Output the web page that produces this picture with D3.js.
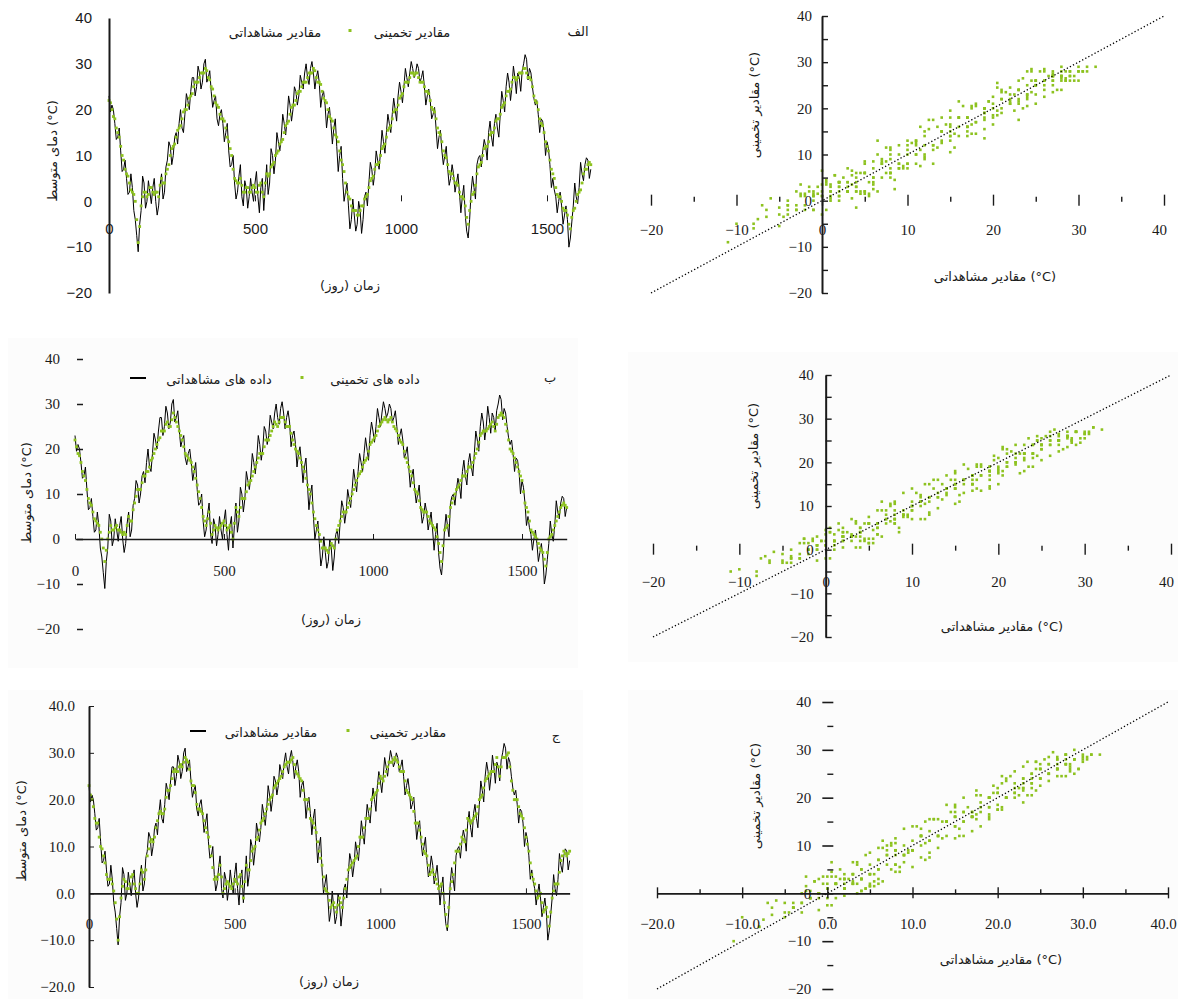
<!DOCTYPE html>
<html><head><meta charset="utf-8">
<script src="https://cdn.jsdelivr.net/npm/d3@7"></script>
<style>body{margin:0;background:#fff}svg{display:block}</style>
</head><body>
<svg id="c" width="1180" height="999"></svg>
<script>
// ---- data ----
// samples at days 0,10,20,...,1650
const observed = [23,21,17,14,11,7,5,2,3,-4,
-11,-2,4,0,2,3,0,-1,6,2,
9,12,10,15,17,16,19,22,24,27,
25,28,26,31,27,24,22,18,19,17,
15,11,8,4,2,8,-1,3,1,
2,4,1,3,-2,8,4,10,9,13,
14,17,18,21,20,24,23,26,28,27,
29,28,27,26,23,21,19,17,16,12,
10,5,2,-1,-4,-3,-5,-2,-4,
2,4,7,6,9,11,13,15,17,19,
20,23,24,25,27,28,29,28,29,27,
25,23,22,19,16,14,11,10,7,5,
6,4,2,1,-3,-8,2,3,8,
10,11,12,15,14,17,16,19,22,25,
26,25,27,28,24,30,31,29,25,21,
19,18,15,13,8,5,1,0,-1,-3,
-4,-8,-1,1,3,6,8,9,7];
// samples at days 5,15,25,...,1645
const observedMid = [19.5,20,13.5,16,6.5,9,1.5,6,-2,-7.5,
-5,5.5,-1.5,4.5,-0.5,5,-3,3.5,0.5,7.5,
13,8,14,12.5,20,15,23.5,20,27,23,
29.5,24.5,30,26,28.5,20.5,23,16.5,20,13,
17,7.5,10,0.5,5.5,1,4.5,-1.5,5,0,
6.5,-2.5,5,3,1.5,11.5,6,15,11,19,
14.5,23,17.5,25,21,27.5,24.5,30,25.5,30.5,
24.5,28.5,20.5,24,16,20.5,12.5,18,6.5,12,
0,4,-6,0.5,-6.5,0,-7,1,-1,8.5,
3.5,11,7,15.5,10.5,19,15,22.5,17.5,26,
21.5,29,25,30.5,27,30,26,28.5,21,24.5,
18,20.5,11.5,15.5,8,12,3.5,8,2,6,
-2.5,3.5,-6.5,-4,5.5,0.5,9.5,7.5,13.5,9,
17.5,12,19,14,24,19.5,28,22,29.5,23.5,
27,28.5,32,26.5,28,22.5,22,15,17.5,10,
11.5,3,2.5,-2.5,2,-5,-1,-10,-4.5,4,
-0.5,8.5,4.5,9.5,5];

const predictedA = [22,20,18,15,12,9,6,4,2,0,
-9,-1,2,1,3,2,2,1,5,4,
7,10,12,14,16,18,20,21,23,25,
26,27,28,29,27,25,23,21,19,18,
16,13,10,5,4,5,2,3,2,
3,3,2,4,1,6,6,8,10,11,
13,15,17,19,21,22,24,25,26,27,
28,29,27,26,24,22,20,18,16,14,
11,8,4,1,-1,-2,-3,-2,-1,
1,3,5,7,8,10,12,14,16,18,
20,21,23,25,26,27,28,28,27,26,
25,24,22,20,18,15,13,10,8,6,
5,4,2,1,-1,-5,0,2,6,
8,10,12,13,15,16,18,19,21,23,
24,26,27,27,28,29,28,27,25,22,
20,17,15,12,9,6,3,1,0,-2,
-3,-6,-2,0,2,4,7,8,8];
const predictedAMid = [21.5,18.5,16,14,10,7,5.5,2.5,1.5,-4,
-5.5,1,2,1.5,3,1.5,2,3.5,4,6,
8,11.5,12.5,15.5,16.5,19.5,20,22.5,23.5,26,
26,28,28,28.5,26.5,24.5,21.5,20.5,18,17.5,
14,11.5,7,4.5,4,3.5,2,3,2,3.5,
2,3.5,2,4,5.5,7.5,8.5,10.5,12.5,13.5,
16.5,17.5,20.5,21,23.5,24,26,26,28,28,
28.5,26,25.5,22.5,21.5,18.5,17.5,14.5,13,9,
6.5,2,0.5,-2,-2,-3,-1,0.5,1.5,4.5,
5.5,8,8.5,11.5,12.5,15.5,16.5,19.5,20,22.5,
23.5,26,26,28,27.5,28,26,26,24,23.5,
20.5,19.5,16,14.5,11,9.5,6.5,6,4,3.5,
1,0.5,-3.5,-2,1.5,3.5,7.5,8.5,11.5,12,
14.5,15,17.5,18,20.5,21.5,24,24.5,27,26.5,
28,28,29,27,26.5,23,21.5,18,16.5,13,
11,7,5,1.5,1,-1.5,-2,-5,-3.5,-1.5,
1.5,2.5,6,7,8.5];

const predictedB = [22,19,17,14,11,8,6,4,3,0,
-5,0,3,2,3,2,1,1,5,4,
8,11,11,14,15,16,18,20,22,24,
24,26,25,28,26,24,22,19,18,17,
15,12,9,5,3,6,1,3,2,
3,4,2,3,0,7,5,9,9,12,
13,15,17,19,19,22,22,24,26,25,
27,27,25,25,22,20,19,17,15,12,
10,6,3,1,-2,-2,-3,-1,-2,
2,4,6,6,8,10,12,14,15,17,
18,21,22,23,25,26,27,26,27,25,
24,22,21,18,16,14,11,10,7,6,
6,4,3,2,-1,-5,2,3,7,
9,11,12,14,14,16,16,18,20,23,
24,24,25,26,24,27,28,27,24,20,
19,17,15,13,8,6,2,1,0,-2,
-3,-6,0,1,3,5,7,8,7];
const predictedBMid = [20.5,18.5,15,13,9,7.5,4.5,3.5,1.5,-2,
-2.5,1.5,2,2.5,2,1.5,1.5,3,4,6.5,
9.5,11,12.5,14,15,17.5,19,21,22.5,24,
25.5,25,26.5,27,25,23,20.5,18.5,17.5,16,
13.5,10.5,7,4,4.5,3.5,2,2.5,2.5,3.5,
3,2.5,1.5,3.5,6,7,9,10.5,12.5,14,
16,18,19,20.5,22,23,25,25.5,26,27,
26,25,23.5,21,19.5,18,16,13.5,11,8,
4.5,2,-0.5,-2,-2.5,-2,-1.5,0,3,5,
6,7,9,11,13,14.5,16,17.5,19.5,21.5,
22.5,24,25.5,26.5,26.5,26.5,26,24.5,23,21.5,
19.5,17,15,12.5,10.5,8.5,6.5,6,5,3.5,
2.5,0.5,-3,-1.5,2.5,5,8,10,11.5,13,
14,15,16,17,19,21.5,23.5,24,24.5,25.5,
25,25.5,27.5,27.5,25.5,22,19.5,18,16,14,
10.5,7,4,1.5,0.5,-1,-2.5,-4.5,-3,0.5,
2,4,6,7.5,7.5];

const predictedC = [23,20,16,15,10,8,4,3,2,-2,
-10,-1,3,1,2,4,1,0,5,3,
8,11,11,14,17,17,18,22,23,26,
26,27,27,29,28,24,23,19,18,17,
14,12,8,3,3,6,0,2,2,
1,3,2,4,-1,6,5,9,10,12,
15,16,18,20,21,23,24,25,27,28,
28,29,26,25,24,20,20,16,15,13,
9,6,1,0,-3,-2,-4,-1,-3,
1,5,6,7,8,12,12,16,16,20,
21,22,25,24,26,28,28,29,28,26,
26,22,21,20,15,15,12,9,8,4,
5,3,1,2,-2,-7,1,4,9,
9,12,11,16,15,16,17,20,21,24,
25,26,26,29,25,29,29,30,24,20,
20,17,16,12,9,4,2,-1,0,-4,
-3,-7,-1,2,2,7,9,8,9];
const predictedCMid = [21,18.5,15,12,9.5,6.5,3,3,0.5,-5.5,
-5,1.5,2.5,1,3.5,2,0,2,4.5,5,
9.5,11.5,12,15.5,17.5,17,20.5,22,24.5,26.5,
26,27.5,28,28.5,26.5,23,21.5,18,17.5,15.5,
13,10,5.5,3.5,4,3.5,1,2.5,1.5,2,
2.5,3.5,1.5,2.5,5,7,9.5,11.5,13.5,15.5,
17,19,20.5,22.5,23.5,24.5,26,27.5,28,28.5,
27.5,25.5,24.5,22,20,18,15.5,14,11,7.5,
3.5,0.5,-1.5,-2.5,-3,-2.5,-2,-1,3,5.5,
6.5,7.5,10,12,14,16,18,20.5,21.5,23.5,
24.5,25,27,28,28.5,28.5,27,26,24,21.5,
20.5,17.5,15,13.5,10.5,8.5,6,4.5,4,2,
1.5,0,-4.5,-3,2.5,6.5,9,10.5,11.5,13.5,
15.5,15.5,16.5,18.5,20.5,22.5,24.5,25.5,26,27.5,
27,27,29,29.5,27,22,20,18.5,16.5,14,
10.5,6.5,3,0.5,-0.5,-2,-3.5,-5,-4,0.5,
2,4.5,8,8.5,8.5];

const timeTicks = [0, 500, 1000, 1500];
const tempTicks = [-20, -10, 0, 10, 20, 30, 40];
const scatterTicks = [-20, -10, 0, 10, 20, 30, 40];
const scatterMinor = [-15, -5, 5, 15, 25, 35];
const diagonal = [-20, 40];

const legendObsA = "مقادیر مشاهداتی", legendPredA = "مقادیر تخمینی";
const legendObsB = "داده های مشاهداتی", legendPredB = "داده های تخمینی";
const timeTitle = "زمان (روز)";
const tempTitle = "دمای متوسط (°C)";
const scatterXTitle = "مقادیر مشاهداتی (°C)";
const scatterYTitle = "مقادیر تخمینی (°C)";
const panelLetters = ["الف", "ب", "ج"];

// merge the 10-day samples and the in-between samples into one 5-day series
function merge(base, mid) {
  const out = [];
  base.forEach((v, i) => { out.push(v); if (i < mid.length) out.push(mid[i]); });
  return out;
}
const obsSeries = merge(observed, observedMid);
const predSeries = [merge(predictedA, predictedAMid), merge(predictedB, predictedBMid), merge(predictedC, predictedCMid)];
const days = obsSeries.map((_, i) => i * 5);

// ---- drawing ----
const svg = d3.select('#c');
const GREEN = '#8dc21f';
const FA = "'DejaVu Sans', sans-serif";
const SANS = "'Liberation Sans', Arial, sans-serif";
const SERIF = "'Liberation Serif', 'Times New Roman', serif";
const INK = '#1a1a1a';

function faText(g, x, y, s, size, rot) {
  const t = g.append('text').attr('x', x).attr('y', y).attr('text-anchor', 'middle')
    .attr('dominant-baseline', 'middle').attr('font-family', FA).attr('font-size', size)
    .attr('fill', INK).text(s);
  if (rot) t.attr('transform', `rotate(-90,${x},${y})`);
  return t;
}
function styleAxis(ag, font, size) {
  ag.selectAll('text').attr('font-family', font).attr('font-size', size).attr('fill', INK);
  ag.selectAll('line').attr('stroke', INK);
  ag.select('.domain').attr('stroke', INK);
}

const timePanels = [
  {pred: predSeries[0], x0: 109, k: 0.292, yTop: 18, yBot: 293, font: SANS, fs: 15,
   yAxisX: 109, yLine: true, yTick: 0, yPad: 17, yFmt: d3.format('d'),
   xLine: false, xPad: 22, xTick: -6, xFmt: d3.format('d'),
   leg: [legendObsA, legendPredA], legY: 33, t1: 275, dot: 350, t2: 412, dash: null,
   letter: [panelLetters[0], 578, 32], yTitle: [53, 151], xTitle: [350, 286], bg: null},
  {pred: predSeries[1], x0: 75, k: 0.298, yTop: 359, yBot: 629, font: SERIF, fs: 15,
   yAxisX: 83, yLine: false, yTick: 6, yPad: 17, yFmt: d3.format('d'),
   xLine: true, xPad: 26, xTick: -5, xFmt: d3.format('d'),
   leg: [legendObsB, legendPredB], legY: 380, t1: 219, dot: 302, t2: 375, dash: [130, 146],
   letter: [panelLetters[1], 550, 378], yTitle: [27, 493], xTitle: [331, 620], bg: [8, 338, 570, 330]},
  {pred: predSeries[2], x0: 89, k: 0.2913, yTop: 706, yBot: 987, font: SERIF, fs: 15,
   yAxisX: 89, yLine: true, yTick: -5, yPad: 14, yFmt: d3.format('.1f'),
   xLine: true, xPad: 25, xTick: -5, xFmt: d3.format('d'),
   leg: [legendObsA, legendPredA], legY: 733, t1: 271, dot: 348, t2: 408, dash: [190, 206],
   letter: [panelLetters[2], 556, 736], yTitle: [22, 831], xTitle: [329, 982], bg: [8, 690, 575, 309]}
];

timePanels.forEach(p => {
  const g = svg.append('g');
  if (p.bg) g.append('rect').attr('x', p.bg[0]).attr('y', p.bg[1]).attr('width', p.bg[2])
    .attr('height', p.bg[3]).attr('fill', '#fcfcfc');
  const x = d3.scaleLinear().domain([0, 1650]).range([p.x0, p.x0 + 1650 * p.k]);
  const y = d3.scaleLinear().domain([-20, 40]).range([p.yBot, p.yTop]);

  g.append('path').datum(obsSeries)
    .attr('d', d3.line().x((d, i) => x(days[i])).y(d => y(d)))
    .attr('fill', 'none').attr('stroke', '#000').attr('stroke-width', 1.0);
  g.selectAll('rect.pt').data(p.pred).join('rect').attr('class', 'pt')
    .attr('x', (d, i) => x(days[i]) - 1.4).attr('y', d => y(d) - 1.4)
    .attr('width', 2.8).attr('height', 2.8).attr('fill', GREEN);

  const ya = d3.axisLeft(y).tickValues(tempTicks).tickFormat(p.yFmt)
    .tickSizeInner(p.yTick).tickSizeOuter(0).tickPadding(p.yPad);
  const yg = g.append('g').attr('transform', `translate(${p.yAxisX},0)`).call(ya);
  styleAxis(yg, p.font, p.fs);
  if (p.yLine) yg.select('.domain').attr('stroke-width', 2);
  else yg.select('.domain').remove();
  if (p.yTick > 0) yg.selectAll('.tick line').attr('stroke-width', 1.5);

  const xa = d3.axisBottom(x).tickValues(timeTicks).tickFormat(p.xFmt)
    .tickSizeInner(p.xTick).tickSizeOuter(0).tickPadding(p.xPad);
  const xg = g.append('g').attr('transform', `translate(0,${y(0)})`).call(xa);
  styleAxis(xg, p.font, p.fs);
  if (p.xLine) xg.select('.domain').attr('stroke-width', 1.6);
  else xg.select('.domain').remove();

  if (p.dash) g.append('line').attr('x1', p.dash[0]).attr('x2', p.dash[1])
    .attr('y1', p.legY - 2).attr('y2', p.legY - 2).attr('stroke', '#000').attr('stroke-width', 2);
  faText(g, p.t1, p.legY, p.leg[0], 13);
  g.append('rect').attr('x', p.dot - 1.5).attr('y', p.legY - 4).attr('width', 3).attr('height', 3).attr('fill', GREEN);
  faText(g, p.t2, p.legY, p.leg[1], 13);
  faText(g, p.letter[1], p.letter[2], p.letter[0], 13);
  faText(g, p.yTitle[0], p.yTitle[1], tempTitle, 13, true);
  faText(g, p.xTitle[0], p.xTitle[1], timeTitle, 13);
});

const scatterPanels = [
  {pred: predSeries[0], xr: [651, 1164], yr: [293, 16], xFmt: d3.format('d'), xLine: false, yLine: true,
   xPad: 24, yPad: 10, yTitle: [755, 105], xTitle: [995, 277], bg: null},
  {pred: predSeries[1], xr: [653, 1171], yr: [637, 375], xFmt: d3.format('d'), xLine: false, yLine: true,
   xPad: 27, yPad: 12, yTitle: [754, 456], xTitle: [1002, 627], bg: [628, 352, 550, 310]},
  {pred: predSeries[2], xr: [657, 1168], yr: [989, 702], xFmt: d3.format('.1f'), xLine: true, yLine: false,
   xPad: 25, yPad: 16, yTitle: [756, 796], xTitle: [1001, 960], bg: [628, 690, 550, 309]}
];

scatterPanels.forEach(p => {
  const g = svg.append('g');
  if (p.bg) g.append('rect').attr('x', p.bg[0]).attr('y', p.bg[1]).attr('width', p.bg[2])
    .attr('height', p.bg[3]).attr('fill', '#fcfcfc');
  const x = d3.scaleLinear().domain([-20, 40]).range(p.xr);
  const y = d3.scaleLinear().domain([-20, 40]).range(p.yr);
  const pairs = obsSeries.map((o, i) => [o, p.pred[i]]);

  g.selectAll('rect.pt').data(pairs).join('rect').attr('class', 'pt')
    .attr('x', d => x(d[0]) - 1.3).attr('y', d => y(d[1]) - 1.3)
    .attr('width', 2.6).attr('height', 2.6).attr('fill', GREEN);

  g.append('path').datum(diagonal)
    .attr('d', d3.line().x(d => x(d)).y(d => y(d)))
    .attr('fill', 'none').attr('stroke', '#000').attr('stroke-width', 1.3)
    .attr('stroke-dasharray', '1.3 2.2');

  const xg = g.append('g').attr('transform', `translate(0,${y(0)})`)
    .call(d3.axisBottom(x).tickValues(scatterTicks).tickFormat(p.xFmt)
      .tickSizeInner(0).tickSizeOuter(0).tickPadding(p.xPad));
  styleAxis(xg, SERIF, 15);
  xg.selectAll('.tick line').attr('y1', -6).attr('y2', 5).attr('stroke-width', 1.4);
  xg.selectAll('.tick text').filter(d => d === 40).attr('dx', -5);
  if (p.xLine) xg.select('.domain').attr('stroke-width', 1.8); else xg.select('.domain').remove();
  const xm = g.append('g').attr('transform', `translate(0,${y(0)})`)
    .call(d3.axisBottom(x).tickValues(scatterMinor).tickFormat('').tickSizeInner(0).tickSizeOuter(0));
  xm.select('.domain').remove();
  xm.selectAll('.tick line').attr('y1', -4).attr('y2', 1).attr('stroke', INK).attr('stroke-width', 1.4);

  const yg = g.append('g').attr('transform', `translate(${x(0)},0)`)
    .call(d3.axisLeft(y).tickValues(scatterTicks).tickFormat(d3.format('d'))
      .tickSizeInner(0).tickSizeOuter(0).tickPadding(p.yPad));
  styleAxis(yg, SERIF, 15);
  if (p.yLine) {
    yg.select('.domain').attr('stroke-width', 2);
    yg.selectAll('.tick line').attr('x1', 0).attr('x2', 6).attr('stroke-width', 1.4);
  } else {
    yg.select('.domain').remove();
    yg.selectAll('.tick line').attr('x1', -5).attr('x2', 6).attr('stroke-width', 1.6);
  }
  const ym = g.append('g').attr('transform', `translate(${x(0)},0)`)
    .call(d3.axisLeft(y).tickValues(scatterMinor).tickFormat('').tickSizeInner(0).tickSizeOuter(0));
  ym.select('.domain').remove();
  ym.selectAll('.tick line').attr('x1', 0).attr('x2', 6).attr('stroke', INK).attr('stroke-width', 1.4);

  faText(g, p.yTitle[0], p.yTitle[1], scatterYTitle, 13, true);
  faText(g, p.xTitle[0], p.xTitle[1], scatterXTitle, 13);
});
</script>
</body></html>
